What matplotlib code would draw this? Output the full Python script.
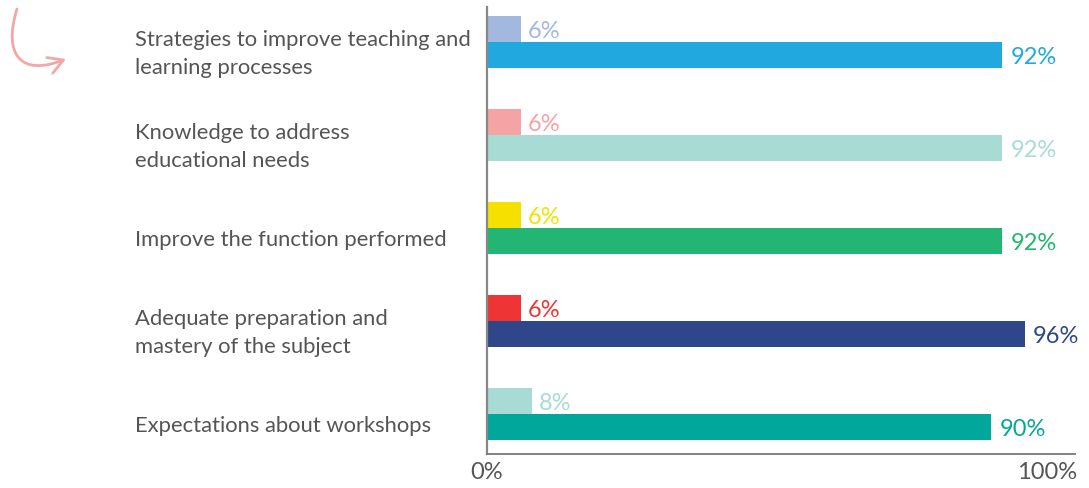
import matplotlib
matplotlib.use("Agg")
import matplotlib.pyplot as plt
from matplotlib.patches import FancyArrowPatch
from matplotlib.path import Path

categories = [
    "Strategies to improve teaching and\nlearning processes",
    "Knowledge to address\neducational needs",
    "Improve the function performed",
    "Adequate preparation and\nmastery of the subject",
    "Expectations about workshops",
]
small_values = [6, 6, 6, 6, 8]
big_values = [92, 92, 92, 96, 90]
small_colors = ["#A3B8DF", "#F5A3A5", "#F5E000", "#EE3434", "#A8DBD4"]
big_colors = ["#21A8DF", "#A8DBD4", "#23B573", "#2F478A", "#00A79A"]
xtick_labels = ["0%", "100%"]

W, H = 1089, 489
fig = plt.figure(figsize=(W / 100, H / 100), dpi=100)
ax = fig.add_axes([487 / W, 1 - 455 / H, 588 / W, 447 / H])

bh = 0.28
for i in range(len(categories)):
    yb = i
    ys = i - bh
    ax.barh(ys, small_values[i], height=bh, color=small_colors[i], align="center")
    ax.barh(yb, big_values[i], height=bh, color=big_colors[i], align="center")
    ax.text(small_values[i] + 1.3, ys + 0.02, f"{small_values[i]}%", color=small_colors[i],
            fontsize=17, va="center", ha="left", family="Lato")
    ax.text(big_values[i] + 1.5, yb + 0.02, f"{big_values[i]}%", color=big_colors[i],
            fontsize=17, va="center", ha="left", family="Lato")
    ax.text(-62.9, yb - 0.02, categories[i], color="#555555", fontsize=15.8,
            va="center", ha="left", family="Lato", linespacing=1.5)

ax.set_xlim(0, 105)
ax.set_ylim(4.29, -0.516)
ax.set_xticks([0, 100])
ax.set_xticklabels(xtick_labels, fontsize=17, color="#555555", family="Lato")
ax.tick_params(axis="x", length=0, pad=5)
ax.set_yticks([])
for s in ["top", "right"]:
    ax.spines[s].set_visible(False)
ax.spines["left"].set_color("#888888")
ax.spines["left"].set_linewidth(1.6)
ax.spines["bottom"].set_color("#777777")
ax.spines["bottom"].set_linewidth(1.3)

# decorative pink arrow (figure pixel coords)
verts = [(17, H - 10), (3, H - 55), (20, H - 78), (66, H - 60)]
codes = [Path.MOVETO, Path.CURVE4, Path.CURVE4, Path.CURVE4]
arrow = FancyArrowPatch(path=Path(verts, codes), arrowstyle="->,head_length=7,head_width=4",
                        color="#F4A6A8", lw=2, transform=None, mutation_scale=1.5)
fig.patches.append(arrow)

fig.savefig("out.png", dpi=100)
